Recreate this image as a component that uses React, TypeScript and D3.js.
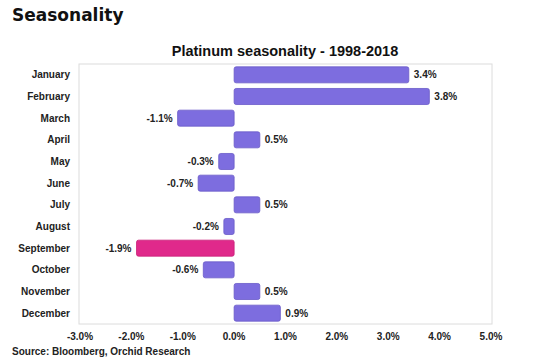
import * as d3 from "d3";

const months = [
  "January", "February", "March", "April", "May", "June",
  "July", "August", "September", "October", "November", "December",
];
const returns = [3.4, 3.8, -1.1, 0.5, -0.3, -0.7, 0.5, -0.2, -1.9, -0.6, 0.5, 0.9];
const highlightMonth = "September";
const xTicks = [-3, -2, -1, 0, 1, 2, 3, 4, 5];

const W = 556;
const H = 362;
const plot = { left: 79, right: 492, top: 64, bottom: 324 };

export default function App() {
  const x = d3.scaleLinear().domain([-3, 5]).range([80, 491]);
  const y = d3
    .scaleBand<string>()
    .domain(months)
    .range([plot.top, plot.bottom])
    .paddingInner(0.26)
    .paddingOuter(0.13);

  const font = "'Liberation Sans', Arial, sans-serif";
  const fmt = (v: number) => `${v.toFixed(1)}%`;

  return (
    <svg
      width={W}
      height={H}
      style={{ position: "absolute", left: 0, top: 0, background: "#fff" }}
      fontFamily={font}
    >
      <text x={12} y={21} fontSize={17} fontWeight={700} fontFamily="'DejaVu Sans', sans-serif" fill="#111">
        Seasonality
      </text>
      <text x={285} y={56} fontSize={14.5} fontWeight={700} textAnchor="middle" fill="#111">
        Platinum seasonality - 1998-2018
      </text>

      <rect
        x={plot.left}
        y={plot.top}
        width={plot.right - plot.left}
        height={plot.bottom - plot.top}
        fill="none"
        stroke="#dcdcdc"
        strokeWidth={1}
      />

      {months.map((m, i) => {
        const v = returns[i];
        const x0 = x(Math.min(0, v));
        const x1 = x(Math.max(0, v));
        const yy = y(m)!;
        const bh = y.bandwidth();
        const hl = m === highlightMonth;
        return (
          <g key={m}>
            <rect
              x={x0}
              y={yy}
              width={x1 - x0}
              height={bh}
              rx={2}
              fill={hl ? "#e0298b" : "#7d6ddf"}
              stroke={hl ? "#c91f78" : "#6a5ac8"}
              strokeWidth={0.8}
            />
            <text
              x={v >= 0 ? x1 + 5 : x0 - 5}
              y={yy + bh / 2 + 3.5}
              fontSize={10}
              fontWeight={700}
              textAnchor={v >= 0 ? "start" : "end"}
              fill="#222"
            >
              {fmt(v)}
            </text>
            <text
              x={70}
              y={yy + bh / 2 + 3.5}
              fontSize={10}
              fontWeight={700}
              textAnchor="end"
              fill="#222"
            >
              {m}
            </text>
          </g>
        );
      })}

      {xTicks.map((t) => (
        <text
          key={t}
          x={x(t)}
          y={340}
          fontSize={10}
          fontWeight={700}
          textAnchor="middle"
          fill="#222"
        >
          {fmt(t)}
        </text>
      ))}

      <text x={12} y={355} fontSize={10} fontWeight={700} fill="#222">
        Source: Bloomberg, Orchid Research
      </text>
    </svg>
  );
}
